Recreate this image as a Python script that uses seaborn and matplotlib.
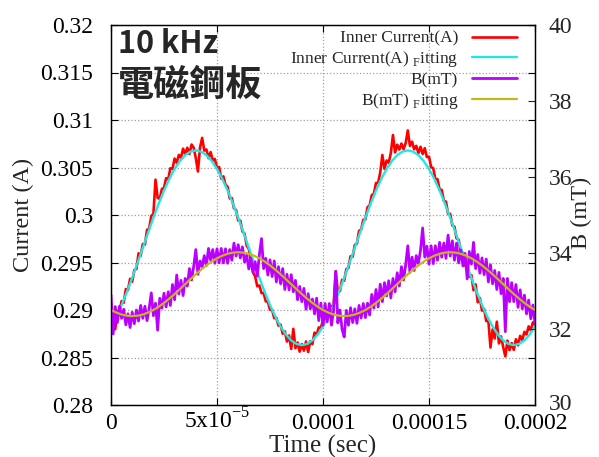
import numpy as np
import pandas as pd
import seaborn as sns
import matplotlib.pyplot as plt
from matplotlib.transforms import ScaledTranslation

# scope record, one sample every microsecond
sample_step = 1e-6
current_raw = [
    0.28776, 0.28795, 0.28798, 0.28983, 0.28982, 0.29093, 0.29076, 0.29221, 0.29209, 0.29328,
    0.29298, 0.29420, 0.29433, 0.29597, 0.29571, 0.29695, 0.29689, 0.29843, 0.29857, 0.29990,
    0.30012, 0.30372, 0.30181, 0.30169, 0.30274, 0.30287, 0.30388, 0.30377, 0.30492, 0.30485,
    0.30594, 0.30550, 0.30633, 0.30602, 0.30698, 0.30640, 0.30708, 0.30642, 0.30742, 0.30708,
    0.30600, 0.30458, 0.30712, 0.30812, 0.30678, 0.30690, 0.30598, 0.30662, 0.30573, 0.30590,
    0.30494, 0.30505, 0.30382, 0.30407, 0.30318, 0.30297, 0.30174, 0.30179, 0.30071, 0.30052,
    0.29942, 0.29940, 0.29827, 0.29803, 0.29679, 0.29645, 0.29501, 0.29397, 0.29353, 0.29250,
    0.29258, 0.29178, 0.29179, 0.29091, 0.29086, 0.29003, 0.29002, 0.28913, 0.28918, 0.28835,
    0.28846, 0.28750, 0.28777, 0.28668, 0.28732, 0.28590, 0.28802, 0.28598, 0.28658, 0.28562,
    0.28640, 0.28572, 0.28668, 0.28558, 0.28672, 0.28640, 0.28762, 0.28738, 0.28817, 0.28810,
    0.28896, 0.28885, 0.28958, 0.28953, 0.29042, 0.29033, 0.29406, 0.29191, 0.29199, 0.29318,
    0.29308, 0.29430, 0.29443, 0.29567, 0.29561, 0.29685, 0.29699, 0.29833, 0.29847, 0.29950,
    0.29952, 0.30082, 0.30101, 0.30209, 0.30224, 0.30337, 0.30338, 0.30447, 0.30632, 0.30485,
    0.30574, 0.30550, 0.30653, 0.30842, 0.30658, 0.30740, 0.30688, 0.30752, 0.30692, 0.30758,
    0.30890, 0.30728, 0.30772, 0.30692, 0.30728, 0.30650, 0.30718, 0.30642, 0.30703, 0.30610,
    0.30614, 0.30505, 0.30492, 0.30377, 0.30378, 0.30267, 0.30264, 0.30149, 0.30141, 0.30012,
    0.30012, 0.29890, 0.29877, 0.29753, 0.29739, 0.29615, 0.29601, 0.29467, 0.29483, 0.29350,
    0.29368, 0.29208, 0.29269, 0.29081, 0.29126, 0.28993, 0.29012, 0.28883, 0.28888, 0.28605,
    0.28796, 0.28700, 0.28877, 0.28648, 0.28722, 0.28610, 0.28512, 0.28678, 0.28578, 0.28652,
    0.28580, 0.28692, 0.28628, 0.28728, 0.28682, 0.28770, 0.28742, 0.28828, 0.28787, 0.28870,
    0.28846]
b_raw = [
    32.90, 31.87, 32.59, 32.17, 32.60, 32.28, 32.52, 32.11, 32.40, 32.04,
    32.44, 32.14, 32.50, 32.21, 32.62, 32.28, 32.60, 32.22, 32.54, 32.95,
    32.35, 32.68, 31.97, 32.81, 32.55, 32.94, 32.58, 32.98, 32.62, 33.17,
    32.77, 33.42, 32.92, 33.28, 32.88, 33.33, 33.13, 33.59, 33.29, 33.64,
    34.09, 33.44, 33.79, 33.64, 33.93, 33.67, 34.12, 33.81, 34.09, 33.73,
    34.11, 33.74, 34.12, 33.74, 34.11, 33.73, 34.09, 33.81, 34.26, 33.92,
    34.22, 33.87, 34.16, 33.76, 33.94, 33.58, 33.86, 33.49, 33.77, 33.39,
    33.96, 34.38, 33.59, 33.86, 33.42, 33.82, 33.38, 33.79, 33.24, 33.64,
    33.19, 33.59, 33.04, 33.44, 33.03, 33.43, 32.98, 33.28, 32.77, 33.12,
    32.72, 33.07, 32.52, 32.93, 32.53, 32.79, 32.40, 32.81, 32.22, 32.68,
    32.10, 32.67, 32.19, 32.67, 32.10, 32.48, 33.52, 32.16, 32.50, 31.99,
    31.79, 32.49, 32.10, 32.56, 32.17, 32.53, 32.15, 32.62, 32.29, 32.67,
    32.30, 32.68, 32.37, 32.91, 32.55, 33.04, 32.58, 33.18, 32.72, 33.22,
    32.87, 33.27, 32.82, 33.33, 32.98, 33.48, 33.13, 33.64, 33.29, 33.69,
    34.19, 33.49, 33.89, 33.54, 33.93, 33.72, 34.07, 34.66, 33.89, 34.18,
    33.71, 34.19, 33.72, 34.19, 33.81, 34.28, 33.89, 34.26, 33.86, 34.47,
    33.92, 34.32, 33.81, 34.26, 33.74, 34.08, 33.66, 33.99, 33.32, 34.04,
    33.71, 34.28, 33.59, 33.96, 33.47, 33.87, 33.43, 33.84, 33.24, 33.69,
    33.19, 33.54, 33.04, 33.49, 32.93, 33.33, 31.93, 33.33, 32.72, 33.22,
    32.72, 33.17, 32.57, 33.03, 32.53, 32.89, 32.40, 32.76, 32.27, 32.63,
    32.15]

# fitted curves, one point every 2.5 microseconds
fit_step = 2.5e-6
current_fit = [
    0.28826, 0.28930, 0.29053, 0.29190, 0.29338, 0.29495, 0.29655, 0.29815, 0.29972, 0.30120,
    0.30258, 0.30380, 0.30484, 0.30568, 0.30630, 0.30667, 0.30680, 0.30667, 0.30630, 0.30568,
    0.30484, 0.30380, 0.30258, 0.30120, 0.29972, 0.29815, 0.29655, 0.29495, 0.29338, 0.29190,
    0.29053, 0.28930, 0.28826, 0.28742, 0.28680, 0.28643, 0.28630, 0.28643, 0.28680, 0.28742,
    0.28826, 0.28930, 0.29053, 0.29190, 0.29338, 0.29495, 0.29655, 0.29815, 0.29972, 0.30120,
    0.30258, 0.30380, 0.30484, 0.30568, 0.30630, 0.30667, 0.30680, 0.30667, 0.30630, 0.30568,
    0.30484, 0.30380, 0.30258, 0.30120, 0.29972, 0.29815, 0.29655, 0.29495, 0.29338, 0.29190,
    0.29053, 0.28930, 0.28826, 0.28742, 0.28680, 0.28643, 0.28630, 0.28643, 0.28680, 0.28742,
    0.28826]
b_fit = [
    32.500, 32.432, 32.381, 32.350, 32.340, 32.350, 32.381, 32.432, 32.500, 32.586,
    32.686, 32.799, 32.920, 33.049, 33.180, 33.311, 33.440, 33.561, 33.674, 33.774,
    33.860, 33.928, 33.979, 34.010, 34.020, 34.010, 33.979, 33.928, 33.860, 33.774,
    33.674, 33.561, 33.440, 33.311, 33.180, 33.049, 32.920, 32.799, 32.686, 32.586,
    32.500, 32.432, 32.381, 32.350, 32.340, 32.350, 32.381, 32.432, 32.500, 32.586,
    32.686, 32.799, 32.920, 33.049, 33.180, 33.311, 33.440, 33.561, 33.674, 33.774,
    33.860, 33.928, 33.979, 34.010, 34.020, 34.010, 33.979, 33.928, 33.860, 33.774,
    33.674, 33.561, 33.440, 33.311, 33.180, 33.049, 32.920, 32.799, 32.686, 32.586,
    32.500]

series_labels = ['Inner Current(A)', 'Inner Current(A) $_{\\mathregular{F}}$itting',
                 'B(mT)', 'B(mT) $_{\\mathregular{F}}$itting']
time_ticks = [0, 5e-5, 1e-4, 1.5e-4, 2e-4]
time_tick_labels = ['0', '5x10$^{\\mathregular{-5}}$', '0.0001', '0.00015', '0.0002']
current_ticks = [0.28, 0.285, 0.29, 0.295, 0.3, 0.305, 0.31, 0.315, 0.32]
current_tick_labels = ['0.28', '0.285', '0.29', '0.295', '0.3', '0.305', '0.31', '0.315', '0.32']
b_ticks = [30, 32, 34, 36, 38, 40]

raw = pd.DataFrame({'time': np.arange(len(current_raw)) * sample_step,
                    'current': current_raw, 'b': b_raw})
fit = pd.DataFrame({'time': np.arange(len(current_fit)) * fit_step,
                    'current': current_fit, 'b': b_fit})

sns.set_style('ticks')
plt.rcParams['font.family'] = ['Liberation Serif', 'DejaVu Serif']
plt.rcParams['mathtext.fontset'] = 'custom'
plt.rcParams['mathtext.rm'] = 'Liberation Serif'

fig = plt.figure(figsize=(5.99, 4.57), dpi=100)
ax = fig.add_axes([111 / 599, 1 - 405 / 457, 424 / 599, 380 / 457])
ax2 = ax.twinx()

sns.lineplot(data=raw, x='time', y='current', ax=ax, color='#ff0000', lw=1.9,
             estimator=None, sort=False, legend=False)
sns.lineplot(data=fit, x='time', y='current', ax=ax, color='#22e6e6', lw=1.7,
             estimator=None, sort=False, legend=False)
sns.lineplot(data=raw, x='time', y='b', ax=ax2, color='#bb00ff', lw=2.0,
             estimator=None, sort=False, legend=False)
sns.lineplot(data=fit, x='time', y='b', ax=ax2, color='#c4b818', lw=1.6,
             estimator=None, sort=False, legend=False)

ax.set_xlim(0, 2e-4)
ax.set_ylim(0.28, 0.32)
ax2.set_ylim(30, 40)

ax.set_xticks(time_ticks, time_tick_labels, va='baseline')
ax.set_yticks(current_ticks, current_tick_labels)
ax2.set_yticks(b_ticks, [str(v) for v in b_ticks])

ax.grid(True, ls=':', color='#a0a0a0', lw=0.9)
ax.tick_params(axis='both', direction='in', length=5, width=0.8, top=True, right=True,
               labelsize=17, colors='black')
ax.tick_params(axis='x', pad=17)
ax.tick_params(axis='y', pad=13)
ax2.tick_params(axis='y', direction='in', length=5, width=0.8, labelsize=17, pad=10)
for a in (ax, ax2):
    for s in a.spines.values():
        s.set_color('black')
        s.set_linewidth(0.9)

# lift the bottom right label a little so it clears "0.0002"
bottom_label = ax2.get_yticklabels()[0]
bottom_label.set_transform(bottom_label.get_transform()
                           + ScaledTranslation(0, 3 / 100, fig.dpi_scale_trans))

ax.set_xlabel('Time (sec)', fontsize=18)
ax.xaxis.set_label_coords(0.5, -0.078)
ax.set_ylabel('Current (A)', fontsize=17.5)
ax.yaxis.set_label_coords(-0.182, 0.5)
ax2.set_ylabel('B (mT)', fontsize=17.5)
ax2.yaxis.set_label_coords(1.085, 0.505)

handles = [ax.lines[0], ax.lines[1], ax2.lines[0], ax2.lines[1]]
ax2.legend(handles, series_labels, loc='upper right', bbox_to_anchor=(0.9575, 0.985),
           frameon=False, markerfirst=False, fontsize=12.5, handlelength=2.6,
           handletextpad=0.8, labelspacing=0.15, borderpad=0, borderaxespad=0)

cjk = ['Noto Sans CJK TC', 'DejaVu Sans']
ax.text(0.0165, 0.926, '10 kHz', transform=ax.transAxes, fontsize=22, fontweight='bold',
        family=cjk, va='baseline', ha='left')
ax.text(0.0165, 0.813, '電磁鋼板', transform=ax.transAxes, fontsize=26, fontweight='bold',
        family=cjk, va='baseline', ha='left')

fig.savefig('out.png', dpi=100)
